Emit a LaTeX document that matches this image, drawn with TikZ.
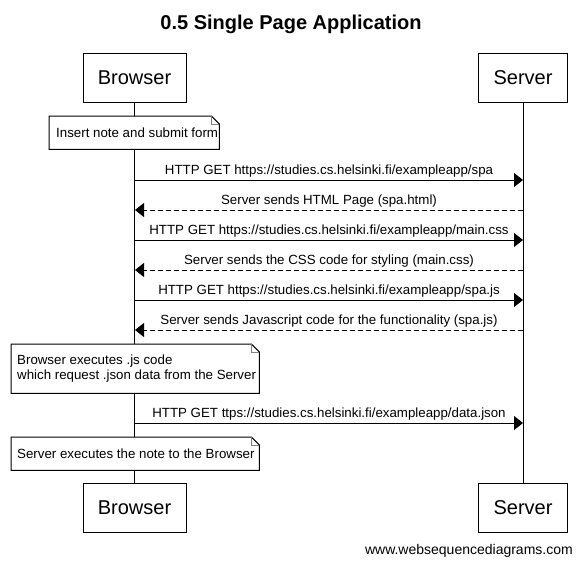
\documentclass[tikz,border=0pt]{standalone}
\usepackage{fontspec}
\setmainfont{Liberation Sans}
\usetikzlibrary{arrows.meta}
\newcommand\wsddogear[1]{%
  \draw[fill=white, line width=1pt] (#1.north west) -- ([xshift=-8pt]#1.north east) -- ([yshift=-8pt]#1.north east) -- (#1.south east) -- (#1.south west) -- cycle;
  \draw[gray, line width=0.8pt] ([xshift=-8pt]#1.north east) |- ([yshift=-8pt]#1.north east);}
\begin{document}
\begin{tikzpicture}[x=1pt, y=-1pt,
  actor/.style={draw, line width=1pt, fill=white, minimum height=49pt, inner sep=0pt, font=\fontsize{20}{24}\selectfont},
  notegeom/.style={draw=none, inner sep=0pt, anchor=north west},
  notetext/.style={anchor=west, inner sep=0pt, align=left, font=\fontsize{13.3}{15}\selectfont},
  msg/.style={line width=1pt, -{Triangle[length=9pt, width=14pt]}},
  ret/.style={msg, dash pattern=on 5pt off 3pt},
  lbl/.style={above, inner sep=2pt, font=\fontsize{13.3}{15}\selectfont},
  lifeline/.style={line width=1pt}]
\useasboundingbox (0,0) rectangle (582,566);
% title
\node[anchor=base, inner sep=0pt, font=\bfseries\fontsize{20}{24}\selectfont] (title) at (291,29) {0.5 Single Page Application};
% actors
\node[actor, minimum width=103pt] (bt) at (134.5,77.5) {Browser};
\node[actor, minimum width=89pt] (st) at (523,77.5) {Server};
\node[actor, minimum width=103pt] (bb) at (134.5,507.5) {Browser};
\node[actor, minimum width=89pt] (sb) at (523,507.5) {Server};
% lifelines
\draw[lifeline] (bt.south) -- (bb.north);
\draw[lifeline] (st.south) -- (sb.north);
% note 1
\node[notegeom, minimum width=170pt, minimum height=33pt] (n1) at (49,116) {};
\wsddogear{n1}
\node[notetext] (n1t) at ([xshift=7pt]n1.west) {Insert note and submit form};
% messages
\coordinate (b1) at (135,180); \coordinate (s1) at (523,180);
\coordinate (b2) at (135,210); \coordinate (s2) at (523,210);
\coordinate (b3) at (135,240); \coordinate (s3) at (523,240);
\coordinate (b4) at (135,270); \coordinate (s4) at (523,270);
\coordinate (b5) at (135,300); \coordinate (s5) at (523,300);
\coordinate (b6) at (135,330); \coordinate (s6) at (523,330);
\coordinate (b7) at (135,423); \coordinate (s7) at (523,423);
\draw[msg] (b1) -- node[lbl] {HTTP GET https://studies.cs.helsinki.fi/exampleapp/spa} (s1);
\draw[ret] (s2) -- node[lbl] {Server sends HTML Page (spa.html)} (b2);
\draw[msg] (b3) -- node[lbl] {HTTP GET https://studies.cs.helsinki.fi/exampleapp/main.css} (s3);
\draw[ret] (s4) -- node[lbl] {Server sends the CSS code for styling (main.css)} (b4);
\draw[msg] (b5) -- node[lbl] {HTTP GET https://studies.cs.helsinki.fi/exampleapp/spa.js} (s5);
\draw[ret] (s6) -- node[lbl] {Server sends Javascript code for the functionality (spa.js)} (b6);
% note 2
\node[notegeom, minimum width=248pt, minimum height=49pt] (n2) at (11,344) {};
\wsddogear{n2}
\node[notetext] (n2t) at ([xshift=6pt]n2.west) {Browser executes .js code\\which request .json data from the Server};
\draw[msg] (b7) -- node[lbl] {HTTP GET ttps://studies.cs.helsinki.fi/exampleapp/data.json} (s7);
% note 3
\node[notegeom, minimum width=248pt, minimum height=33pt] (n3) at (11,437) {};
\wsddogear{n3}
\node[notetext] (n3t) at ([xshift=6pt]n3.west) {Server executes the note to the Browser};
% footer
\node[anchor=east, inner sep=0pt, font=\fontsize{14}{16}\selectfont] (foot) at (573,551) {www.websequencediagrams.com};
\end{tikzpicture}
\end{document}
